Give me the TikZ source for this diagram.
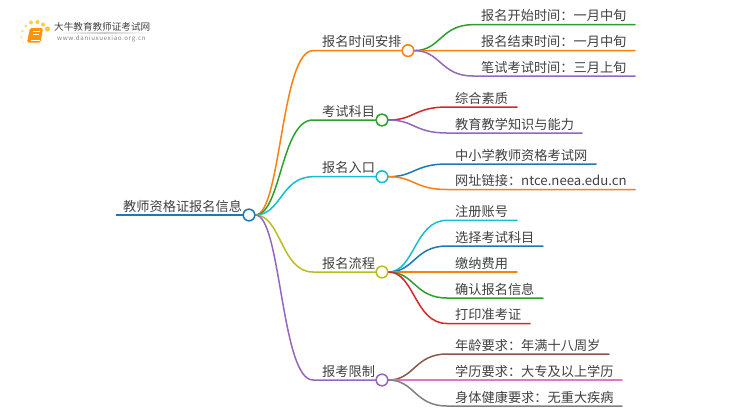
\documentclass[tikz,border=0pt]{standalone}
\usepackage{fontspec}
\setmainfont{Noto Sans CJK SC}
\definecolor{cblue}{HTML}{1F77B4}
\definecolor{corange}{HTML}{FF7F0E}
\definecolor{cgreen}{HTML}{2CA02C}
\definecolor{cred}{HTML}{D62728}
\definecolor{cpurple}{HTML}{9467BD}
\definecolor{cbrown}{HTML}{8C564B}
\definecolor{cpink}{HTML}{E377C2}
\definecolor{cgray}{HTML}{7F7F7F}
\definecolor{colive}{HTML}{BCBD22}
\definecolor{ccyan}{HTML}{17BECF}
\definecolor{txt}{HTML}{404040}
\tikzset{
  lab/.style={anchor=base west,inner sep=0pt,yshift=-0.6bp,text=txt,font=\fontsize{13.2bp}{16bp}\selectfont},
  hub/.style={circle,draw=#1,fill=white,line width=1.4bp,minimum width=11.5bp,minimum height=11.5bp,inner sep=0pt},
  link/.style={draw=#1,line width=1.5bp,line cap=round},
}
% \bough{from}{to-start}{to-end}{colour}
\newcommand{\bough}[4]{\draw[link=#4] (#1) .. controls ($(#1)!0.5!(#2 |- #1)$) and ($(#1 |- #2)!0.5!(#2)$) .. (#2) -- (#3);}
\usetikzlibrary{calc}
\begin{document}
\begin{tikzpicture}[x=1bp,y=-1bp]
\useasboundingbox (0,0) rectangle (750,410);
% logo
\foreach \px/\py/\r/\o in {47.5/29/2.6/.8,43/24.5/2/.75,37.5/22/2/.75,31/22.5/2/.7,26/26/1.7/.55,22.5/31/1.5/.45,21.5/37/1.3/.35,23.5/42.5/1.1/.25}
  \fill[orange!55!yellow,opacity=\o] (\px,\py) circle (\r);
\fill[orange!85!yellow,rounded corners=1.5] (30,28) -- (43,28) -- (40.5,42.5) -- (27,42.5) -- cycle;
\draw[white,line width=.5] (30.5,40.5) -- (39.5,40.5);
\draw[white,line width=.6] (33,31.5) -- (39.5,31.5) (32.5,34) -- (39,34);
\node[anchor=west,inner sep=0pt,text=black!75,font=\fontsize{9.6bp}{12bp}\selectfont] (logotitle) at (54,27) {大牛教育教师证考试网};
\shade[left color=white,right color=white,middle color=black!20] (58,32.8) rectangle (150,33.6);
\node[anchor=west,inner sep=0pt,text=black!50,font=\fontsize{6.2bp}{8bp}\selectfont] (logourl) at (57,39) {\addfontfeatures{LetterSpace=10}www.daniuxuexiao.org.cn};
% root
\coordinate (rootL) at (116,215);
\node[hub=cblue] (root) at (249,215) {};
% level 1 hubs
\node[hub=corange] (h1) at (408,50.6) {};
\node[hub=cgreen] (h2) at (382,120) {};
\node[hub=ccyan] (h3) at (382,176.7) {};
\node[hub=colive] (h4) at (382,272) {};
\node[hub=cpurple] (h5) at (382,380) {};
\foreach \n/\xx/\yy in {h1/313/50.6,h2/313/120,h3/313/176.7,h4/313/272,h5/313/380} \coordinate (\n s) at (\xx,\yy);
% leaf coordinates
\foreach \n/\xa/\xb/\yy in {a/473/635/24.7,b/473/635/50.6,c/473/635/76,d/447/517/107,e/447/582/133,f/447/596/164,g/447/635/189.5,i/447/517/220.3,j/447/543/246,k/447/517/272,l/447/543/298,m/447/530/323.5,n/447/609/354,o/447/622/380,p/447/622/406}{
  \coordinate (\n s) at (\xa,\yy);
  \coordinate (\n e) at (\xb,\yy);
}
\draw[draw=cblue,line width=2.2bp] (rootL) -- (root);
\bough{root}{h1s}{h1}{corange}
\bough{root}{h2s}{h2}{cgreen}
\bough{root}{h3s}{h3}{ccyan}
\bough{root}{h4s}{h4}{colive}
\bough{root}{h5s}{h5}{cpurple}
\bough{h1}{as}{ae}{cgreen}
\bough{h1}{bs}{be}{corange}
\bough{h1}{cs}{ce}{cpurple}
\bough{h2}{ds}{de}{cred}
\bough{h2}{es}{ee}{cpurple}
\bough{h3}{fs}{fe}{cblue}
\bough{h3}{gs}{ge}{corange}
\bough{h4}{is}{ie}{ccyan}
\bough{h4}{js}{je}{cblue}
\bough{h4}{ks}{ke}{corange}
\bough{h4}{ls}{le}{cgreen}
\bough{h4}{ms}{me}{cred}
\bough{h5}{ns}{ne}{cbrown}
\bough{h5}{os}{oe}{cpink}
\bough{h5}{ps}{pe}{cgray}
% redraw hubs above the lines
\foreach \n/\c in {root/cblue,h1/corange,h2/cgreen,h3/ccyan,h4/colive,h5/cpurple}
  \node[hub=\c] at (\n) {};
% labels
\node[lab] (troot) at (123,211) {教师资格证报名信息};
\node[lab] (t1) at (322,46) {报名时间安排};
\node[lab] (t2) at (322,115.4) {考试科目};
\node[lab] (t3) at (322,172) {报名入口};
\node[lab] (t4) at (322,267.4) {报名流程};
\node[lab] (t5) at (322,375.4) {报考限制};
\node[lab] (ta) at (481,20.2) {报名开始时间：一月中旬};
\node[lab] (tb) at (481,46) {报名结束时间：一月中旬};
\node[lab] (tc) at (481,71.5) {笔试考试时间：三月上旬};
\node[lab] (td) at (455,102.5) {综合素质};
\node[lab] (te) at (455,128.5) {教育教学知识与能力};
\node[lab] (tf) at (455,159.5) {中小学教师资格考试网};
\node[lab] (tg) at (455,185) {网址链接：ntce.neea.edu.cn};
\node[lab] (ti) at (455,215.7) {注册账号};
\node[lab] (tj) at (455,241.5) {选择考试科目};
\node[lab] (tk) at (455,267.4) {缴纳费用};
\node[lab] (tl) at (455,293.4) {确认报名信息};
\node[lab] (tm) at (455,319) {打印准考证};
\node[lab] (tn) at (455,349.5) {年龄要求：年满十八周岁};
\node[lab] (to) at (455,375.4) {学历要求：大专及以上学历};
\node[lab] (tp) at (455,401.4) {身体健康要求：无重大疾病};
\end{tikzpicture}
\end{document}
